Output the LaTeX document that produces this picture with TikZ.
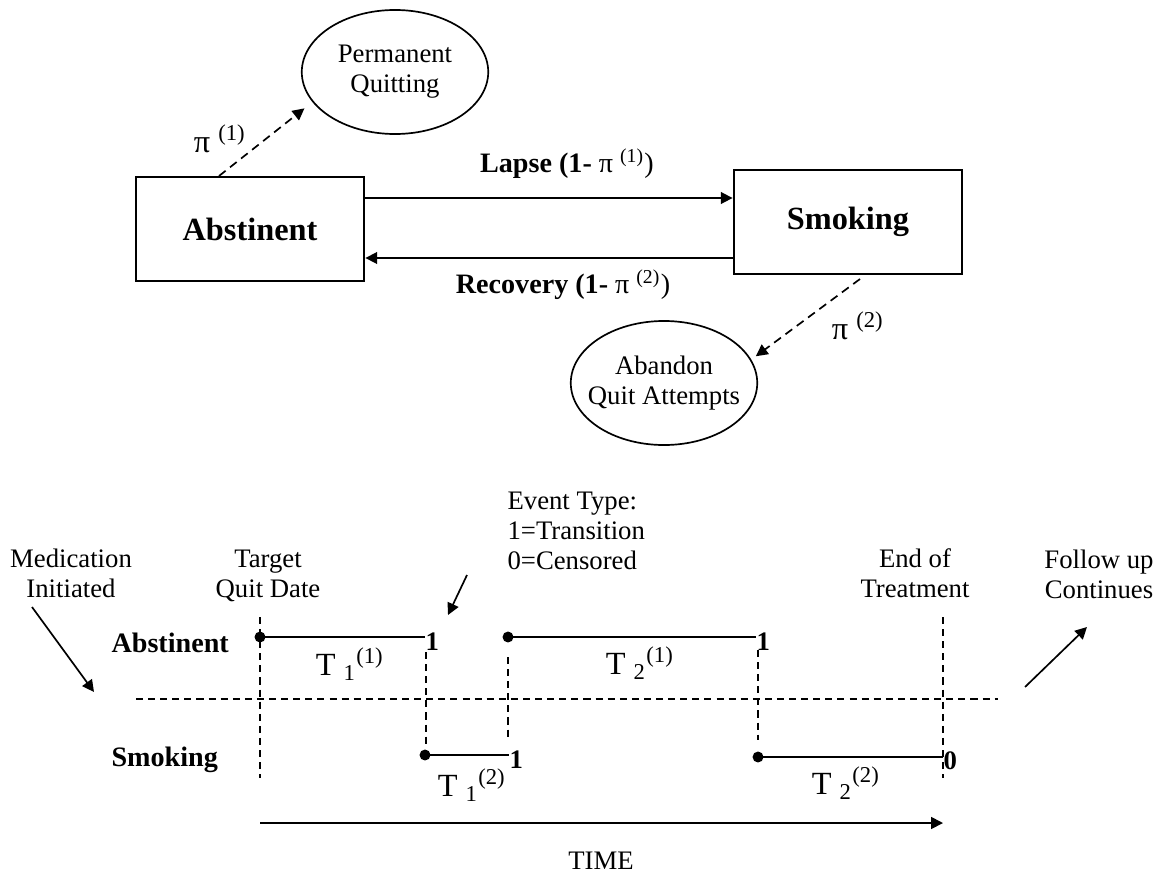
\documentclass[tikz,border=0pt]{standalone}
\usepackage{fontspec}
\setmainfont{Liberation Serif}
\usetikzlibrary{arrows.meta, shapes.geometric, positioning, calc}

\begin{document}
\begin{tikzpicture}[x=0.0125cm, y=-0.0125cm, >={Triangle[length=4.2pt, width=4.2pt]},
    every node/.style={font=\fontsize{9.5}{10.6}\selectfont},
    statebox/.style={draw, line width=0.7pt, minimum width=2.86cm, minimum height=1.3cm, font=\fontsize{11.5}{13}\selectfont\bfseries},
    absorb/.style={draw, ellipse, line width=0.6pt, minimum width=2.33cm, minimum height=1.55cm, inner xsep=-5pt, inner ysep=0pt, align=center},
    flow/.style={->, line width=0.6pt},
    exitflow/.style={->, line width=0.6pt, dash pattern=on 3pt off 2pt},
    guide/.style={line width=0.5pt, dash pattern=on 2.5pt off 1.8pt},
    spell/.style={line width=0.6pt},
    dot/.style={circle, fill, inner sep=0pt, minimum size=3.9pt},
    evt/.style={font=\fontsize{9.5}{11}\selectfont\bfseries, inner sep=0pt, anchor=north west},
    dur/.style={font=\fontsize{11.5}{13}\selectfont},
    rowlab/.style={font=\fontsize{10}{12}\selectfont\bfseries, anchor=west, inner sep=0pt}]

    \useasboundingbox (0,0) rectangle (1168,877);

    % states and absorbing outcomes
    \node[statebox] (abst) at (250,229) {Abstinent};
    \node[statebox] (smok) at (848,222) {Smoking};
    \node[absorb] (perm) at (395,72) {Permanent\\Quitting};
    \node[absorb] (aban) at (664,383) {Abandon\\Quit Attempts};

    \draw[flow] (abst.east |- 0,198) -- (smok.west |- 0,198);
    \draw[flow] (smok.west |- 0,258) -- (abst.east |- 0,258);
    \node[font=\fontsize{10}{12}\selectfont] (lapse) at (567,164) {\textbf{Lapse (1-} π \textsuperscript{(1)})};
    \node[font=\fontsize{10}{12}\selectfont] (recov) at (563,285) {\textbf{Recovery (1-} π \textsuperscript{(2)})};

    \draw[exitflow, shorten >=3.6pt] ($(abst.north)+(-31,0)$) -- (perm.200);
    \node[dur] (pi1) at (220,139) {π \textsuperscript{(1)}};
    \draw[exitflow, shorten >=2pt] ($(smok.south)+(12,4)$) -- (aban.15);
    \node[dur] (pi2) at (858,326) {π \textsuperscript{(2)}};

    % time line
    \node[align=center] (med) at (71,573) {Medication\\Initiated};
    \node[align=center] (tqd) at (268,576) {Target\\Quit Date};
    \node[align=center] (eot) at (915,573) {End of\\Treatment};
    \node[align=center] (fol) at (1099,574) {Follow up\\Continues};
    \node[align=left, anchor=west, inner sep=0pt] (evtype) at (507,531) {Event Type:\\1=Transition\\0=Censored};

    \node[rowlab] (rabs) at (111,643) {Abstinent};
    \node[rowlab] (rsmk) at (111,760) {Smoking};

    \draw[guide] (136,699) -- (998,699);
    \draw[guide] (260,617) -- (260,778);
    \draw[guide] (943,617) -- (943,778);
    \draw[guide] (426,652) -- (426,747);
    \draw[guide] (508,657) -- (508,740);
    \draw[guide] (758,650) -- (758,740);

    \node[dot] (a1) at (260,637) {};
    \node[evt] (e1) at (425,632) {1};
    \node[dot] (s1) at (425,755) {};
    \node[evt] (e2) at (509,750) {1};
    \node[dot] (a2) at (508,637) {};
    \node[evt] (e3) at (756,632) {1};
    \node[dot] (s2) at (758,757) {};
    \node[evt] (e4) at (943,751) {0};
    \draw[spell] (a1.center) -- (a1 -| e1.west);
    \draw[spell] (s1.center) -- (s1 -| e2.west);
    \draw[spell] (a2.center) -- (a2 -| e3.west);
    \draw[spell] (s2.center) -- (s2 -| e4.west);

    \node[dur] (d1) at (350,664) {T \textsubscript{1}\textsuperscript{(1)}};
    \node[dur] (d2) at (640,663) {T \textsubscript{2}\textsuperscript{(1)}};
    \node[dur] (d3) at (472,785) {T \textsubscript{1}\textsuperscript{(2)}};
    \node[dur] (d4) at (846,783) {T \textsubscript{2}\textsuperscript{(2)}};

    \coordinate (t0) at (260,823);
    \coordinate (t1) at (943,823);
    \draw[flow] (t0) -- (t1);
    \node (time) at (601,861) {TIME};

    \coordinate (m0) at (32,607);
    \coordinate (m1) at (94,692);
    \draw[flow] (m0) -- (m1);
    \coordinate (v0) at (467,575);
    \coordinate (v1) at (448,615);
    \draw[flow] (v0) -- (v1);
    \coordinate (f0) at (1025,687);
    \coordinate (f1) at (1087,627);
    \draw[flow] (f0) -- (f1);
\end{tikzpicture}
\end{document}
